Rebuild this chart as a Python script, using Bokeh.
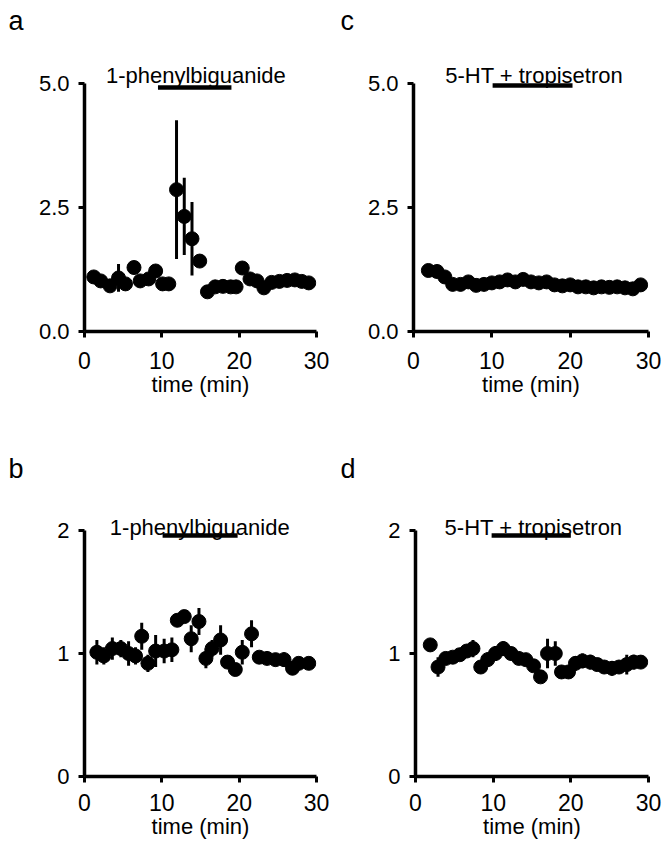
from bokeh.plotting import figure
from bokeh.models import Range1d, Label, FixedTicker, Title
from bokeh.layouts import column, row
from bokeh.embed import file_html
from bokeh.resources import INLINE

FONT = "Liberation Sans"

# ---------------- data ----------------
x_ticks = [0, 10, 20, 30]
x_tick_labels = ["0", "10", "20", "30"]
y5_ticks = [0, 2.5, 5]
y5_tick_labels = ["0.0", "2.5", "5.0"]
y2_ticks = [0, 1, 2]
y2_tick_labels = ["0", "1", "2"]
x_label = "time (min)"

drug_pbg = "1-phenylbiguanide"
drug_trop = "5-HT + tropisetron"

# panel a
a_time = [1.2, 2.1, 3.3, 4.4, 5.3, 6.4, 7.2, 8.3, 9.2, 10.1, 10.9, 11.9, 12.9, 13.9, 14.9,
          15.9, 16.9, 17.9, 18.9, 19.6, 20.4, 21.4, 22.3, 23.2, 24.2, 25.2, 26.2, 27.2, 28.1, 29.0]
a_value = [1.10, 1.02, 0.92, 1.08, 0.96, 1.29, 1.02, 1.06, 1.22, 0.96, 0.96, 2.86, 2.32, 1.87, 1.42,
           0.80, 0.90, 0.91, 0.90, 0.90, 1.28, 1.06, 1.02, 0.88, 0.99, 1.01, 1.03, 1.04, 1.01, 0.98]
a_err = [0.05, 0.04, 0.04, 0.28, 0.04, 0.05, 0.05, 0.05, 0.05, 0.04, 0.04, 1.40, 0.78, 0.74, 0.06,
         0.04, 0.04, 0.03, 0.03, 0.03, 0.05, 0.05, 0.04, 0.04, 0.05, 0.06, 0.05, 0.05, 0.04, 0.04]
a_bar = [9.5, 19.0]

# panel c
c_time = [1.9, 3.0, 4.0, 5.0, 6.0, 7.0, 8.0, 9.0, 10.0, 11.0, 12.0, 13.0, 14.0, 15.0,
          16.0, 17.0, 18.0, 19.0, 20.0, 21.0, 22.0, 23.0, 24.0, 25.0, 26.0, 27.0, 28.0, 29.0]
c_value = [1.23, 1.21, 1.10, 0.95, 0.95, 1.00, 0.93, 0.95, 0.98, 1.00, 1.04, 1.00, 1.05, 1.00,
           0.98, 1.00, 0.94, 0.92, 0.94, 0.90, 0.90, 0.88, 0.90, 0.89, 0.90, 0.88, 0.86, 0.94]
c_err = [0.03, 0.03, 0.03, 0.03, 0.03, 0.03, 0.03, 0.04, 0.04, 0.04, 0.04, 0.04, 0.05, 0.04,
         0.04, 0.10, 0.04, 0.04, 0.04, 0.04, 0.04, 0.04, 0.05, 0.04, 0.04, 0.04, 0.04, 0.04]
c_bar = [10.1, 20.3]

# panel b
b_time = [1.6, 2.5, 3.6, 4.7, 5.7, 6.6, 7.4, 8.2, 9.2, 10.3, 11.3, 12.0, 12.9, 13.8, 14.8,
          15.7, 16.5, 17.6, 18.5, 19.5, 20.4, 21.6, 22.6, 23.6, 24.7, 25.8, 26.9, 27.7, 29.0]
b_value = [1.01, 0.98, 1.04, 1.04, 1.00, 0.98, 1.14, 0.92, 1.02, 1.02, 1.03, 1.27, 1.30, 1.12, 1.26,
           0.96, 1.04, 1.11, 0.93, 0.87, 1.01, 1.16, 0.97, 0.96, 0.95, 0.95, 0.88, 0.92, 0.92]
b_err = [0.10, 0.07, 0.09, 0.07, 0.10, 0.07, 0.11, 0.07, 0.13, 0.10, 0.10, 0.04, 0.04, 0.11, 0.11,
         0.08, 0.07, 0.12, 0.05, 0.04, 0.10, 0.11, 0.05, 0.05, 0.05, 0.06, 0.05, 0.05, 0.05]
b_bar = [10.1, 19.8]

# panel d
d_time = [1.9, 2.9, 3.9, 4.8, 5.7, 6.6, 7.4, 8.4, 9.3, 10.3, 11.3, 12.3, 13.3, 14.2, 15.2,
          16.1, 17.0, 18.0, 18.8, 19.7, 20.6, 21.5, 22.5, 23.4, 24.3, 25.3, 26.2, 27.2, 28.1, 29.0]
d_value = [1.07, 0.89, 0.96, 0.97, 0.99, 1.02, 1.04, 0.89, 0.95, 1.00, 1.04, 1.00, 0.96, 0.95, 0.90,
           0.81, 1.00, 1.00, 0.85, 0.85, 0.92, 0.94, 0.93, 0.91, 0.89, 0.88, 0.89, 0.91, 0.93, 0.93]
d_err = [0.03, 0.08, 0.05, 0.04, 0.05, 0.05, 0.07, 0.05, 0.06, 0.06, 0.06, 0.05, 0.05, 0.05, 0.05,
         0.04, 0.12, 0.10, 0.05, 0.05, 0.06, 0.06, 0.06, 0.05, 0.05, 0.06, 0.05, 0.08, 0.06, 0.05]
d_bar = [9.8, 20.0]


def make_panel(width, height, left, right, top, bottom, axis_px, y_axis_max, yt, ytl,
               times, vals, errs, bar, bar_px, drug, drug_x, drug_px,
               letter, letter_offset, x_standoff):
    frame_h = height - top - bottom
    unit = axis_px / y_axis_max            # pixels per data unit
    y_top = frame_h / unit                 # frame extends above the axis for the drug label
    p = figure(width=width, height=height, x_range=Range1d(0, 30), y_range=Range1d(0, y_top),
               output_backend="svg", toolbar_location=None,
               min_border_left=left, min_border_right=right,
               min_border_top=top, min_border_bottom=bottom)
    p.outline_line_color = None
    p.grid.visible = False
    p.background_fill_color = "white"
    p.border_fill_color = "white"
    for ax in (p.xaxis[0], p.yaxis[0]):
        ax.axis_line_width = 3.5
        ax.axis_line_color = "black"
        ax.major_tick_line_width = 3
        ax.major_tick_line_color = "black"
        ax.major_tick_out = 6
        ax.major_tick_in = 0
        ax.minor_tick_line_color = None
        ax.major_label_text_font = FONT
        ax.major_label_text_color = "black"
        ax.axis_label_text_font = FONT
        ax.axis_label_text_font_style = "normal"
        ax.axis_label_text_color = "black"
    p.xaxis.ticker = FixedTicker(ticks=x_ticks)
    p.xaxis.major_label_overrides = dict(zip(x_ticks, x_tick_labels))
    p.xaxis.major_label_text_font_size = "23px"
    p.xaxis.major_label_standoff = x_standoff
    p.xaxis.axis_label = x_label
    p.xaxis.axis_label_text_font_size = "22px"
    p.xaxis.axis_label_standoff = 0
    p.xaxis.bounds = (0, 30)
    p.yaxis.ticker = FixedTicker(ticks=yt)
    p.yaxis.major_label_overrides = dict(zip(yt, ytl))
    p.yaxis.major_label_text_font_size = "22px"
    p.yaxis.major_label_standoff = 9
    p.yaxis.bounds = (0, y_axis_max)

    lo = [v - e for v, e in zip(vals, errs)]
    hi = [v + e for v, e in zip(vals, errs)]
    p.segment(x0=times, y0=lo, x1=times, y1=hi, line_width=3, line_color="black")
    p.scatter(times, vals, size=14, marker="circle", fill_color="black", line_color="black")
    bar_y = bar_px / unit
    p.segment(x0=[bar[0]], y0=[bar_y], x1=[bar[1]], y1=[bar_y], line_width=4.5, line_color="black")

    p.add_layout(Label(x=drug_x, y=drug_px / unit, text=drug, text_font=FONT, text_font_size="22px",
                       text_align="center", text_baseline="alphabetic", text_color="black"))
    p.add_layout(Title(text=letter, align="left", offset=letter_offset, text_font=FONT,
                       text_font_size="27px", text_font_style="normal", text_color="black",
                       standoff=4.6), "above")
    return p


# top row (height 448): y=0 at 331 px, 5.0 at 83 px
pa = make_panel(336, 448, 84, 20, 38, 117, 248, 5, y5_ticks, y5_tick_labels,
                a_time, a_value, a_err, a_bar, 244, drug_pbg, 14.4, 256, "a", -76, 14)
pc = make_panel(328, 448, 77, 16, 38, 117, 248, 5, y5_ticks, y5_tick_labels,
                c_time, c_value, c_err, c_bar, 246, drug_trop, 15.4, 256, "c", -73, 14)
# bottom row (height 397, starts at 448): y=0 at 776 px, 2 at 530 px
pb = make_panel(336, 397, 84, 20, 38, 69, 246, 2, y2_ticks, y2_tick_labels,
                b_time, b_value, b_err, b_bar, 241, drug_pbg, 14.9, 249, "b", -76, 11)
pd = make_panel(328, 397, 79, 16, 38, 69, 246, 2, y2_ticks, y2_tick_labels,
                d_time, d_value, d_err, d_bar, 241, drug_trop, 15.2, 249, "d", -75, 11)

layout = column(row(pa, pc), row(pb, pd))
open("out.html", "w").write(file_html(layout, INLINE))
